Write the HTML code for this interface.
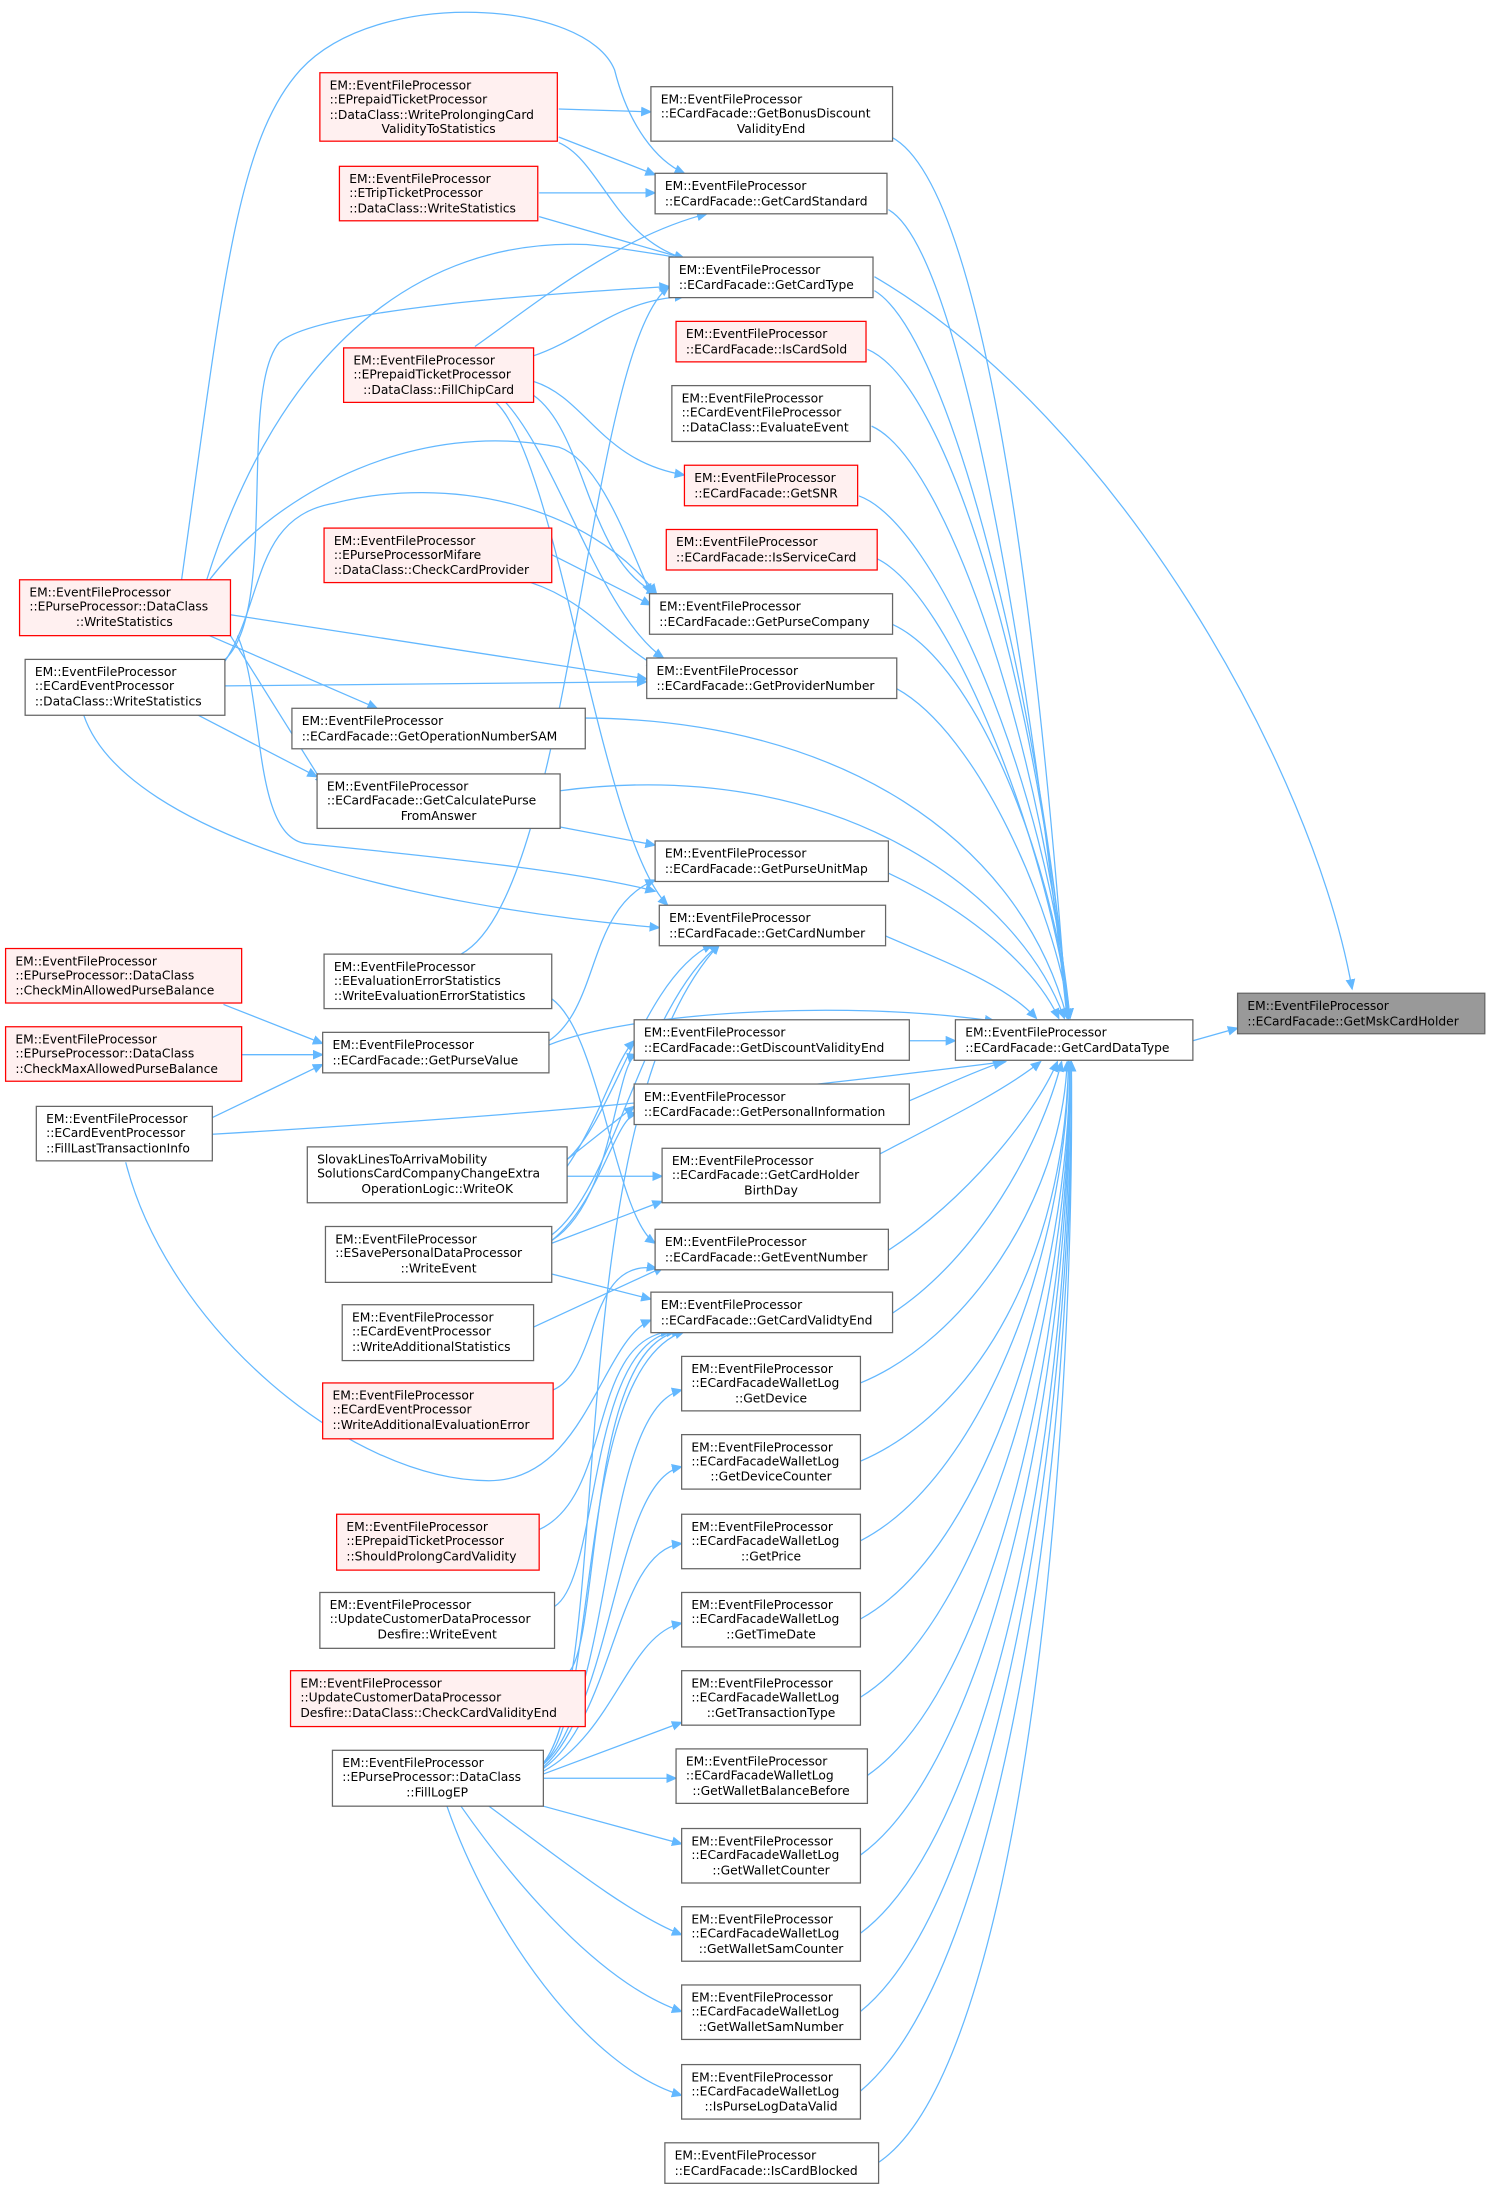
<!DOCTYPE html>
<html><head><meta charset="utf-8"><style>
html,body{margin:0;padding:0;background:#fff;}
svg{display:block}
text{font-family:"DejaVu Sans","Liberation Sans",sans-serif;font-size:8.8px;fill:#000}
.n{fill:#fff;stroke:#666;stroke-width:0.9}
.r{fill:#fff0f0;stroke:#f00;stroke-width:0.9}
.g{fill:#999;stroke:#666;stroke-width:0.9}
.e{fill:none;stroke:#63b8ff;stroke-width:0.9}
</style></head><body>
<svg width="1489" height="2189" viewBox="0 0 1066 1567" xmlns="http://www.w3.org/2000/svg">
<defs><marker id="a" markerWidth="8" markerHeight="8" refX="7" refY="3.5" orient="auto" markerUnits="userSpaceOnUse"><path d="M0,0 L8,3.5 L0,7 z" fill="#63b8ff"/></marker></defs>
<g class="e" marker-end="url(#a)">
<path d="M854,745 L886,736"/>
<path d="M626,198 C800,300 940,550 968,708"/>
<path d="M638,98 C700,130 740,400 764,729"/>
<path d="M636,150 C690,180 740,500 764,729"/>
<path d="M626,208 C680,240 745,500 765,729"/>
<path d="M621,250 C680,275 745,500 765,729"/>
<path d="M624,305 C680,330 750,550 765,729"/>
<path d="M615,355 C670,375 750,560 766,729"/>
<path d="M628,400 C680,425 750,600 766,729"/>
<path d="M639,447 C700,475 755,620 766,729"/>
<path d="M642,493 C700,525 755,650 766,729"/>
<path d="M419,514 C600,515 730,600 764,729"/>
<path d="M401,566 C600,540 730,640 762,729"/>
<path d="M636,625 C690,650 740,690 758,729"/>
<path d="M634,670 C680,690 720,705 742,729"/>
<path d="M393,748 C450,725 600,715 712,731"/>
<path d="M651,745 L684,745"/>
<path d="M651,788 C670,780 690,770 718,760"/>
<path d="M152,812 C350,800 480,790 720,760"/>
<path d="M630,826 C680,800 720,780 745,760"/>
<path d="M636,895 C690,860 740,800 757,760"/>
<path d="M639,940 C700,900 745,820 760,760"/>
<path d="M616,990 C690,960 760,860 764,760"/>
<path d="M616,1046 C700,1010 762,900 765,760"/>
<path d="M616,1103 C700,1060 764,900 765,760"/>
<path d="M616,1159 C705,1110 765,920 766,760"/>
<path d="M616,1215 C705,1160 766,940 766,760"/>
<path d="M621,1271 C710,1210 766,960 766,760"/>
<path d="M616,1328 C710,1260 767,980 766,760"/>
<path d="M616,1384 C715,1310 768,1000 766,760"/>
<path d="M616,1440 C715,1360 768,1020 767,760"/>
<path d="M616,1497 C720,1410 769,1040 767,760"/>
<path d="M629,1548 C730,1480 770,1050 767,760"/>
<path d="M400,78 L466,80"/>
<path d="M400,98 L469,125"/>
<path d="M400,102 C430,115 440,170 490,185"/>
<path d="M386,138 L469,138"/>
<path d="M386,155 L490,185"/>
<path d="M340,248 C380,220 440,170 506,153"/>
<path d="M381,255 C420,242 440,215 490,212"/>
<path d="M382,273 C420,285 430,330 490,340"/>
<path d="M382,283 C420,310 420,400 470,425"/>
<path d="M362,288 C400,330 430,440 475,471"/>
<path d="M355,288 C400,330 430,600 478,648"/>
<path d="M395,397 L466,433"/>
<path d="M380,417 C420,430 440,460 470,477"/>
<path d="M130,415 C160,200 170,100 215,50 C270,-10 420,0 440,50 C450,90 470,115 490,124"/>
<path d="M148,415 C200,250 300,170 420,175 C450,178 470,182 490,185"/>
<path d="M150,415 C200,350 300,300 400,320 C430,330 450,390 466,425"/>
<path d="M165,440 L463,486"/>
<path d="M150,455 L270,507"/>
<path d="M160,473 C200,440 170,280 200,245 C230,220 400,210 479,205"/>
<path d="M160,475 C190,430 180,370 240,360 C320,340 420,360 470,425"/>
<path d="M161,491 L463,488"/>
<path d="M140,511 L227,556"/>
<path d="M165,455 L232,562"/>
<path d="M60,512 C90,600 300,650 472,664"/>
<path d="M170,455 C190,500 180,600 220,604 C330,615 420,625 469,638"/>
<path d="M393,745 C430,720 420,650 469,630"/>
<path d="M401,592 L469,605"/>
<path d="M160,719 L231,747"/>
<path d="M173,755 L231,755"/>
<path d="M152,800 L231,762"/>
<path d="M90,832 C120,950 250,1060 350,1060 C420,1060 430,960 466,945"/>
<path d="M330,683 C410,640 420,250 479,205"/>
<path d="M395,715 C430,740 440,870 469,890"/>
<path d="M406,830 C440,800 460,700 510,676"/>
<path d="M406,835 C430,800 440,760 454,745"/>
<path d="M406,830 L454,792"/>
<path d="M406,842 L474,842"/>
<path d="M395,884 C440,850 460,720 515,676"/>
<path d="M395,888 C440,860 440,760 456,755"/>
<path d="M395,888 C430,860 440,800 456,797"/>
<path d="M395,890 L474,860"/>
<path d="M395,912 L466,930"/>
<path d="M382,950 L475,907"/>
<path d="M396,995 C430,980 420,900 470,908"/>
<path d="M386,1095 C440,1070 420,960 480,953"/>
<path d="M397,1150 C430,1130 420,960 484,953"/>
<path d="M408,1196 C430,1170 420,960 488,953"/>
<path d="M389,1262 C440,1200 400,800 515,676"/>
<path d="M389,1262 C430,1230 410,980 490,953"/>
<path d="M389,1263 C440,1220 430,1010 488,995"/>
<path d="M389,1265 C440,1220 440,1060 488,1050"/>
<path d="M389,1266 C440,1230 440,1110 488,1105"/>
<path d="M389,1268 C440,1240 450,1170 488,1162"/>
<path d="M389,1270 L488,1233"/>
<path d="M389,1273 L484,1273"/>
<path d="M389,1293 L488,1320"/>
<path d="M350,1293 C400,1330 450,1370 488,1385"/>
<path d="M330,1293 C370,1350 430,1420 488,1440"/>
<path d="M320,1293 C350,1380 420,1480 488,1500"/>
</g>
<rect class="g" x="886" y="711" width="177" height="29"/>
<text x="893" y="723">EM::EventFileProcessor</text><text x="893" y="734">::ECardFacade::GetMskCardHolder</text>
<rect class="n" x="684" y="730" width="170" height="29"/>
<text x="691" y="742">EM::EventFileProcessor</text><text x="691" y="753">::ECardFacade::GetCardDataType</text>

<rect class="n" x="466" y="62" width="173" height="39"/>
<text x="473" y="74">EM::EventFileProcessor</text><text x="473" y="84">::ECardFacade::GetBonusDiscount</text><text x="552" y="95" text-anchor="middle">ValidityEnd</text>
<rect class="n" x="469" y="124" width="166" height="29"/>
<text x="476" y="136">EM::EventFileProcessor</text><text x="476" y="147">::ECardFacade::GetCardStandard</text>
<rect class="n" x="479" y="184" width="146" height="29"/>
<text x="486" y="196">EM::EventFileProcessor</text><text x="486" y="207">::ECardFacade::GetCardType</text>
<rect class="r" x="484" y="230" width="136" height="29"/>
<text x="491" y="242">EM::EventFileProcessor</text><text x="491" y="253">::ECardFacade::IsCardSold</text>
<rect class="n" x="481" y="276" width="142" height="40"/>
<text x="488" y="288">EM::EventFileProcessor</text><text x="488" y="298">::ECardEventFileProcessor</text><text x="488" y="309">::DataClass::EvaluateEvent</text>
<rect class="r" x="490" y="333" width="124" height="29"/>
<text x="497" y="345">EM::EventFileProcessor</text><text x="497" y="356">::ECardFacade::GetSNR</text>
<rect class="r" x="477" y="379" width="151" height="29"/>
<text x="484" y="391">EM::EventFileProcessor</text><text x="484" y="402">::ECardFacade::IsServiceCard</text>
<rect class="n" x="465" y="425" width="174" height="29"/>
<text x="472" y="437">EM::EventFileProcessor</text><text x="472" y="448">::ECardFacade::GetPurseCompany</text>
<rect class="n" x="463" y="471" width="179" height="29"/>
<text x="470" y="483">EM::EventFileProcessor</text><text x="470" y="494">::ECardFacade::GetProviderNumber</text>
<rect class="n" x="209" y="507" width="210" height="29"/>
<text x="216" y="519">EM::EventFileProcessor</text><text x="216" y="530">::ECardFacade::GetOperationNumberSAM</text>
<rect class="n" x="227" y="554" width="174" height="39"/>
<text x="234" y="566">EM::EventFileProcessor</text><text x="234" y="576">::ECardFacade::GetCalculatePurse</text><text x="314" y="587" text-anchor="middle">FromAnswer</text>
<rect class="n" x="469" y="602" width="167" height="29"/>
<text x="476" y="614">EM::EventFileProcessor</text><text x="476" y="625">::ECardFacade::GetPurseUnitMap</text>
<rect class="n" x="472" y="648" width="162" height="29"/>
<text x="479" y="660">EM::EventFileProcessor</text><text x="479" y="671">::ECardFacade::GetCardNumber</text>
<rect class="n" x="454" y="730" width="197" height="29"/>
<text x="461" y="742">EM::EventFileProcessor</text><text x="461" y="753">::ECardFacade::GetDiscountValidityEnd</text>
<rect class="n" x="454" y="776" width="197" height="29"/>
<text x="461" y="788">EM::EventFileProcessor</text><text x="461" y="799">::ECardFacade::GetPersonalInformation</text>
<rect class="n" x="474" y="822" width="156" height="39"/>
<text x="481" y="834">EM::EventFileProcessor</text><text x="481" y="844">::ECardFacade::GetCardHolder</text><text x="552" y="855" text-anchor="middle">BirthDay</text>
<rect class="n" x="469" y="880" width="167" height="29"/>
<text x="476" y="892">EM::EventFileProcessor</text><text x="476" y="903">::ECardFacade::GetEventNumber</text>
<rect class="n" x="466" y="925" width="173" height="29"/>
<text x="473" y="937">EM::EventFileProcessor</text><text x="473" y="948">::ECardFacade::GetCardValidtyEnd</text>

<rect class="n" x="488" y="971" width="128" height="39"/>
<text x="495" y="983">EM::EventFileProcessor</text><text x="495" y="993">::ECardFacadeWalletLog</text><text x="552" y="1004" text-anchor="middle">::GetDevice</text>
<rect class="n" x="488" y="1027" width="128" height="39"/>
<text x="495" y="1039">EM::EventFileProcessor</text><text x="495" y="1049">::ECardFacadeWalletLog</text><text x="552" y="1060" text-anchor="middle">::GetDeviceCounter</text>
<rect class="n" x="488" y="1084" width="128" height="39"/>
<text x="495" y="1096">EM::EventFileProcessor</text><text x="495" y="1106">::ECardFacadeWalletLog</text><text x="552" y="1117" text-anchor="middle">::GetPrice</text>
<rect class="n" x="488" y="1140" width="128" height="39"/>
<text x="495" y="1152">EM::EventFileProcessor</text><text x="495" y="1162">::ECardFacadeWalletLog</text><text x="552" y="1173" text-anchor="middle">::GetTimeDate</text>
<rect class="n" x="488" y="1196" width="128" height="39"/>
<text x="495" y="1208">EM::EventFileProcessor</text><text x="495" y="1218">::ECardFacadeWalletLog</text><text x="552" y="1229" text-anchor="middle">::GetTransactionType</text>
<rect class="n" x="484" y="1252" width="137" height="39"/>
<text x="491" y="1264">EM::EventFileProcessor</text><text x="491" y="1274">::ECardFacadeWalletLog</text><text x="552" y="1285" text-anchor="middle">::GetWalletBalanceBefore</text>
<rect class="n" x="488" y="1309" width="128" height="39"/>
<text x="495" y="1321">EM::EventFileProcessor</text><text x="495" y="1331">::ECardFacadeWalletLog</text><text x="552" y="1342" text-anchor="middle">::GetWalletCounter</text>
<rect class="n" x="488" y="1365" width="128" height="39"/>
<text x="495" y="1377">EM::EventFileProcessor</text><text x="495" y="1387">::ECardFacadeWalletLog</text><text x="552" y="1398" text-anchor="middle">::GetWalletSamCounter</text>
<rect class="n" x="488" y="1421" width="128" height="39"/>
<text x="495" y="1433">EM::EventFileProcessor</text><text x="495" y="1443">::ECardFacadeWalletLog</text><text x="552" y="1454" text-anchor="middle">::GetWalletSamNumber</text>
<rect class="n" x="488" y="1478" width="128" height="39"/>
<text x="495" y="1490">EM::EventFileProcessor</text><text x="495" y="1500">::ECardFacadeWalletLog</text><text x="552" y="1511" text-anchor="middle">::IsPurseLogDataValid</text>
<rect class="n" x="476" y="1534" width="153" height="29"/>
<text x="483" y="1546">EM::EventFileProcessor</text><text x="483" y="1557">::ECardFacade::IsCardBlocked</text>

<rect class="r" x="229" y="52" width="170" height="49"/>
<text x="236" y="64">EM::EventFileProcessor</text><text x="236" y="74">::EPrepaidTicketProcessor</text><text x="236" y="85">::DataClass::WriteProlongingCard</text><text x="314" y="95" text-anchor="middle">ValidityToStatistics</text>
<rect class="r" x="243" y="119" width="142" height="39"/>
<text x="250" y="131">EM::EventFileProcessor</text><text x="250" y="141">::ETripTicketProcessor</text><text x="250" y="152">::DataClass::WriteStatistics</text>
<rect class="r" x="246" y="249" width="136" height="39"/>
<text x="253" y="261">EM::EventFileProcessor</text><text x="253" y="271">::EPrepaidTicketProcessor</text><text x="314" y="282" text-anchor="middle">::DataClass::FillChipCard</text>
<rect class="r" x="232" y="378" width="163" height="39"/>
<text x="239" y="390">EM::EventFileProcessor</text><text x="239" y="400">::EPurseProcessorMifare</text><text x="239" y="411">::DataClass::CheckCardProvider</text>
<rect class="r" x="14" y="415" width="151" height="40"/>
<text x="21" y="427">EM::EventFileProcessor</text><text x="21" y="437">::EPurseProcessor::DataClass</text><text x="89" y="448" text-anchor="middle">::WriteStatistics</text>
<rect class="n" x="18" y="472" width="143" height="40"/>
<text x="25" y="484">EM::EventFileProcessor</text><text x="25" y="494">::ECardEventProcessor</text><text x="25" y="505">::DataClass::WriteStatistics</text>
<rect class="n" x="232" y="683" width="163" height="39"/>
<text x="239" y="695">EM::EventFileProcessor</text><text x="239" y="705">::EEvaluationErrorStatistics</text><text x="239" y="716">::WriteEvaluationErrorStatistics</text>
<rect class="n" x="231" y="739" width="162" height="29"/>
<text x="238" y="751">EM::EventFileProcessor</text><text x="238" y="762">::ECardFacade::GetPurseValue</text>
<rect class="r" x="4" y="679" width="169" height="39"/>
<text x="11" y="691">EM::EventFileProcessor</text><text x="11" y="701">::EPurseProcessor::DataClass</text><text x="11" y="712">::CheckMinAllowedPurseBalance</text>
<rect class="r" x="4" y="735" width="169" height="39"/>
<text x="11" y="747">EM::EventFileProcessor</text><text x="11" y="757">::EPurseProcessor::DataClass</text><text x="11" y="768">::CheckMaxAllowedPurseBalance</text>
<rect class="n" x="26" y="792" width="126" height="39"/>
<text x="33" y="804">EM::EventFileProcessor</text><text x="33" y="814">::ECardEventProcessor</text><text x="33" y="825">::FillLastTransactionInfo</text>
<rect class="n" x="220" y="821" width="186" height="40"/>
<text x="227" y="833">SlovakLinesToArrivaMobility</text><text x="227" y="843">SolutionsCardCompanyChangeExtra</text><text x="313" y="854" text-anchor="middle">OperationLogic::WriteOK</text>
<rect class="n" x="233" y="878" width="162" height="40"/>
<text x="240" y="890">EM::EventFileProcessor</text><text x="240" y="900">::ESavePersonalDataProcessor</text><text x="314" y="911" text-anchor="middle">::WriteEvent</text>
<rect class="n" x="245" y="934" width="137" height="40"/>
<text x="252" y="946">EM::EventFileProcessor</text><text x="252" y="956">::ECardEventProcessor</text><text x="252" y="967">::WriteAdditionalStatistics</text>
<rect class="r" x="231" y="990" width="165" height="40"/>
<text x="238" y="1002">EM::EventFileProcessor</text><text x="238" y="1012">::ECardEventProcessor</text><text x="238" y="1023">::WriteAdditionalEvaluationError</text>
<rect class="r" x="241" y="1084" width="145" height="40"/>
<text x="248" y="1096">EM::EventFileProcessor</text><text x="248" y="1106">::EPrepaidTicketProcessor</text><text x="248" y="1117">::ShouldProlongCardValidity</text>
<rect class="n" x="229" y="1140" width="168" height="40"/>
<text x="236" y="1152">EM::EventFileProcessor</text><text x="236" y="1162">::UpdateCustomerDataProcessor</text><text x="313" y="1173" text-anchor="middle">Desfire::WriteEvent</text>
<rect class="r" x="208" y="1196" width="211" height="40"/>
<text x="215" y="1208">EM::EventFileProcessor</text><text x="215" y="1218">::UpdateCustomerDataProcessor</text><text x="215" y="1229">Desfire::DataClass::CheckCardValidityEnd</text>
<rect class="n" x="238" y="1253" width="151" height="40"/>
<text x="245" y="1265">EM::EventFileProcessor</text><text x="245" y="1275">::EPurseProcessor::DataClass</text><text x="313" y="1286" text-anchor="middle">::FillLogEP</text>
</svg>
</body></html>
